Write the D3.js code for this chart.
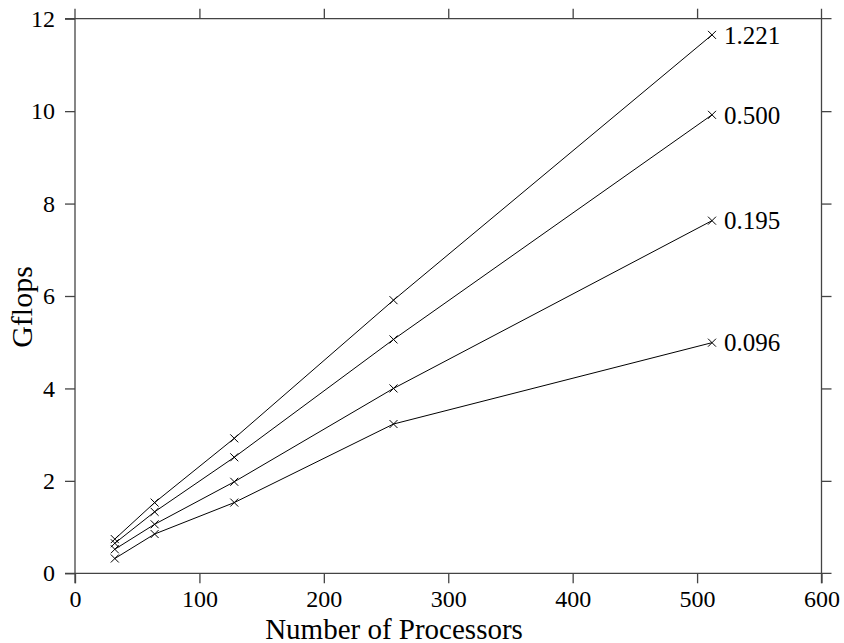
<!DOCTYPE html>
<html>
<head>
<meta charset="utf-8">
<script src="https://cdn.jsdelivr.net/npm/d3@7"></script>
<style>
  body { margin: 0; background: #fff; }
  text { font-family: "Liberation Serif", "Times New Roman", serif; fill: #000; }
</style>
</head>
<body>
<div id="chart-area"></div>
<script>
// processors on the x axis
const processors = [32, 64, 128, 256, 512];

// one line per problem size (label at the right end)
const seriesNames = ["1.221", "0.500", "0.195", "0.096"];
const gflops1221 = [0.74, 1.53, 2.92, 5.91, 11.65];
const gflops0500 = [0.65, 1.33, 2.51, 5.06, 9.92];
const gflops0195 = [0.52, 1.06, 1.98, 4.00, 7.63];
const gflops0096 = [0.32, 0.85, 1.53, 3.23, 4.99];

const xTicks = [0, 100, 200, 300, 400, 500, 600];
const yTicks = [0, 2, 4, 6, 8, 10, 12];

const allSeries = [gflops1221, gflops0500, gflops0195, gflops0096];

const W = 844, H = 643;
const x = d3.scaleLinear().domain([0, 600]).range([75, 821.5]);
const y = d3.scaleLinear().domain([0, 12]).range([573.3, 18.7]);
const tick = 10;
const frameColor = '#444';

const svg = d3.select('#chart-area').append('svg')
  .attr('width', W)
  .attr('height', H);

// frame lines, each one running past the corners by a tick length
const frame = svg.append('g')
  .attr('stroke', frameColor)
  .attr('stroke-width', 1.3);
frame.append('line')
  .attr('x1', x(0) - tick).attr('x2', x(600) + tick)
  .attr('y1', y(0)).attr('y2', y(0));
frame.append('line')
  .attr('x1', x(0) - tick).attr('x2', x(600) + tick)
  .attr('y1', y(12)).attr('y2', y(12));
frame.append('line')
  .attr('x1', x(0)).attr('x2', x(0))
  .attr('y1', y(0) + tick).attr('y2', y(12) - tick);
frame.append('line')
  .attr('x1', x(600)).attr('x2', x(600))
  .attr('y1', y(0) + tick).attr('y2', y(12) - tick);

// axes with outward ticks, domain paths hidden (the frame draws them)
const axBottom = svg.append('g')
  .attr('transform', `translate(0,${y(0)})`)
  .call(d3.axisBottom(x).tickValues(xTicks).tickSize(tick).tickPadding(3).tickFormat(d3.format('d')));
const axTop = svg.append('g')
  .attr('transform', `translate(0,${y(12)})`)
  .call(d3.axisTop(x).tickValues(xTicks.slice(1, -1)).tickSize(tick).tickFormat(''));
const axLeft = svg.append('g')
  .attr('transform', `translate(${x(0)},0)`)
  .call(d3.axisLeft(y).tickValues(yTicks).tickSize(tick).tickPadding(10).tickFormat(d3.format('d')));
const axRight = svg.append('g')
  .attr('transform', `translate(${x(600)},0)`)
  .call(d3.axisRight(y).tickValues(yTicks.slice(1, -1)).tickSize(tick).tickFormat(''));

[axBottom, axTop, axLeft, axRight].forEach(g => {
  g.select('.domain').remove();
  g.selectAll('.tick line').attr('stroke', frameColor).attr('stroke-width', 1.3);
  g.selectAll('text')
    .attr('font-family', '"Liberation Serif", serif')
    .attr('font-size', 24)
    .attr('fill', '#000');
});
axBottom.selectAll('text').attr('dy', '0.88em');

// lines
const line = d3.line()
  .x((d, i) => x(processors[i]))
  .y(d => y(d));

svg.append('g')
  .selectAll('path')
  .data(allSeries)
  .join('path')
    .attr('d', line)
    .attr('fill', 'none')
    .attr('stroke', '#000')
    .attr('stroke-width', 1);

// x-shaped markers
const m = 4;
const pts = allSeries.flatMap(s => s.map((v, i) => ({ px: x(processors[i]), py: y(v) })));
svg.append('g')
  .selectAll('path')
  .data(pts)
  .join('path')
    .attr('d', d => `M${d.px - m},${d.py - m}L${d.px + m},${d.py + m}M${d.px - m},${d.py + m}L${d.px + m},${d.py - m}`)
    .attr('stroke', '#000')
    .attr('stroke-width', 1)
    .attr('fill', 'none');

// end labels
svg.append('g')
  .selectAll('text')
  .data(allSeries)
  .join('text')
    .attr('x', x(processors[processors.length - 1]) + 12)
    .attr('y', d => y(d[d.length - 1]))
    .attr('dy', '0.35em')
    .attr('font-size', 25)
    .text((d, i) => seriesNames[i]);

// axis titles
svg.append('text')
  .attr('x', 394)
  .attr('y', 638.5)
  .attr('text-anchor', 'middle')
  .attr('font-size', 29)
  .text('Number of Processors');

svg.append('text')
  .attr('transform', 'translate(32,307) rotate(-90)')
  .attr('text-anchor', 'middle')
  .attr('font-size', 30)
  .text('Gflops');
</script>
</body>
</html>
